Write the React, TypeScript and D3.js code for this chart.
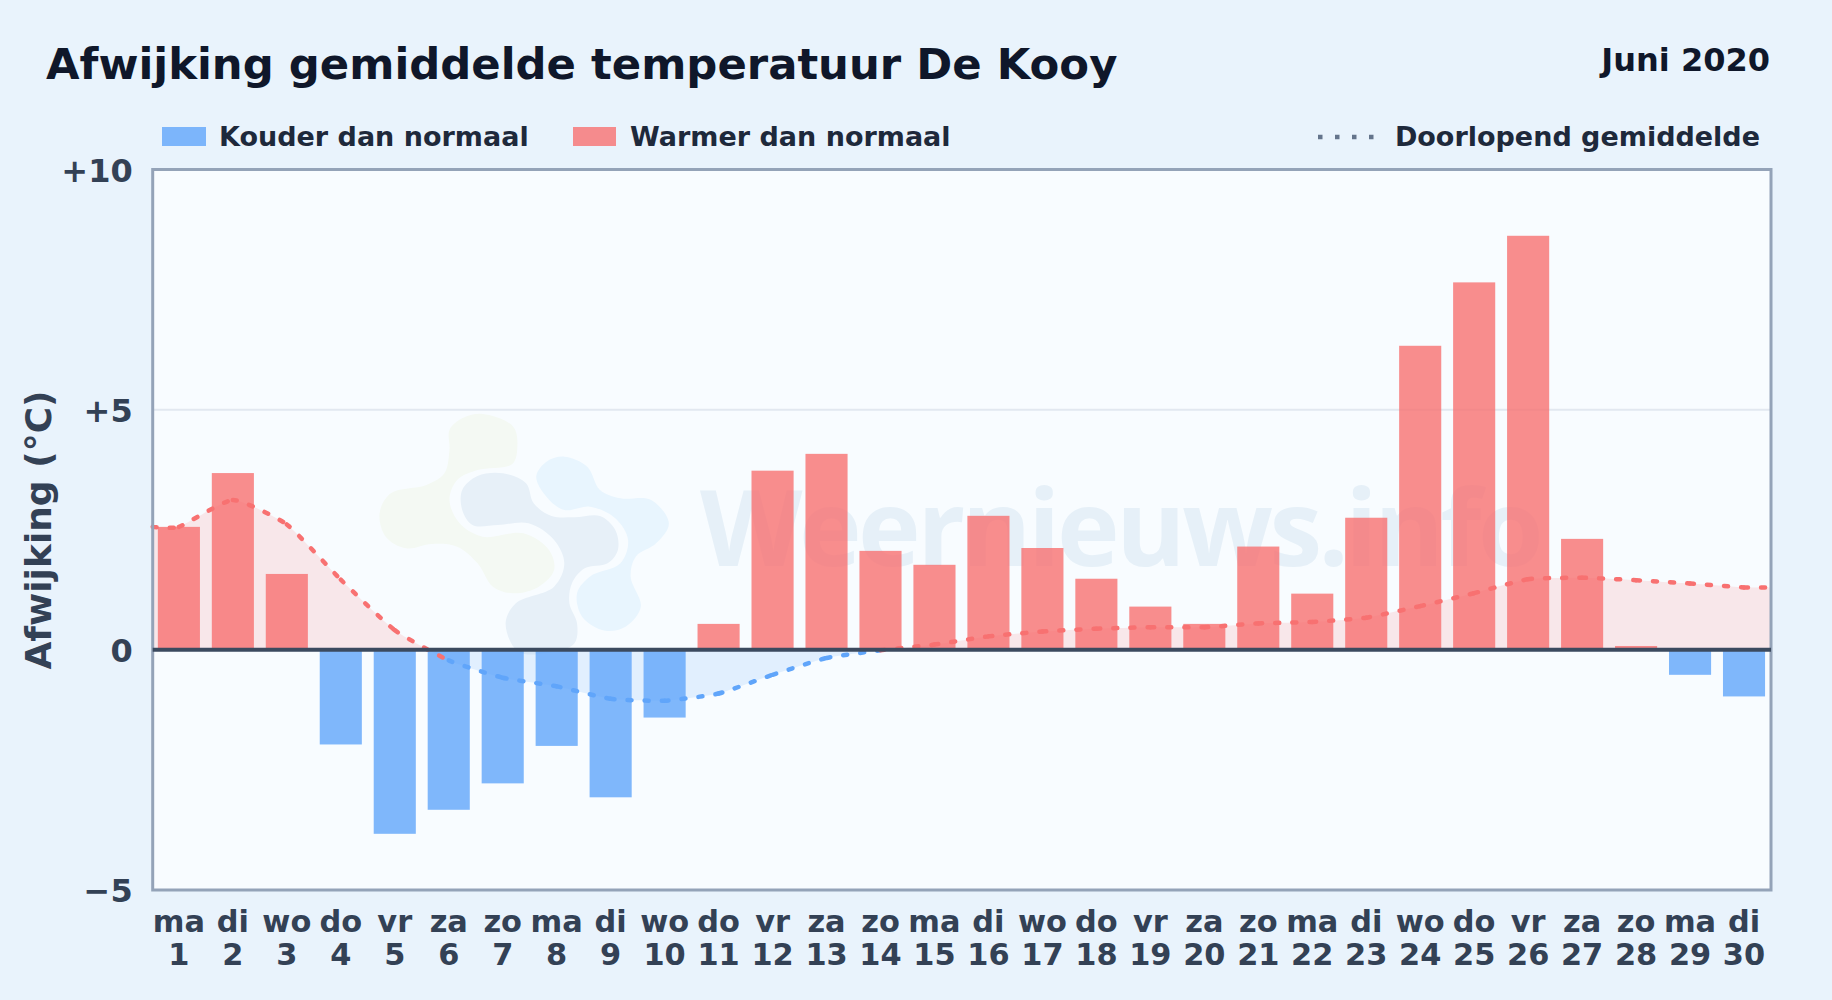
import React, { useEffect, useRef } from "react";
import * as d3 from "d3";

const WEEKDAYS = ["ma", "di", "wo", "do", "vr", "za", "zo", "ma", "di", "wo", "do", "vr", "za", "zo", "ma", "di", "wo", "do", "vr", "za", "zo", "ma", "di", "wo", "do", "vr", "za", "zo", "ma", "di"];
const DAYS = ["1", "2", "3", "4", "5", "6", "7", "8", "9", "10", "11", "12", "13", "14", "15", "16", "17", "18", "19", "20", "21", "22", "23", "24", "25", "26", "27", "28", "29", "30"];
const ANOMALY = [2.56, 3.68, 1.58, -1.97, -3.83, -3.33, -2.78, -2.0, -3.07, -1.41, 0.54, 3.73, 4.08, 2.06, 1.77, 2.79, 2.12, 1.48, 0.9, 0.54, 2.15, 1.17, 2.75, 6.33, 7.65, 8.62, 2.31, 0.08, -0.52, -0.97];
const RUNNING_MEAN = [2.56, 3.12, 2.61, 1.46, 0.41, -0.22, -0.58, -0.76, -1.02, -1.06, -0.91, -0.52, -0.17, -0.01, 0.11, 0.28, 0.38, 0.44, 0.47, 0.47, 0.55, 0.58, 0.67, 0.91, 1.18, 1.47, 1.5, 1.45, 1.38, 1.3];
const Y_TICKS = [-5, 0, 5, 10];

// Watermark blobs (zoomed crop coordinates)
const LOGO_GREEN: [number, number][] = [[260, 72], [320, 110], [328, 170], [318, 222], [250, 240], [210, 270], [195, 330], [215, 400], [260, 440], [340, 430], [390, 480], [400, 540], [370, 590], [320, 610], [280, 590], [250, 520], [210, 470], [160, 462], [110, 475], [70, 440], [58, 370], [80, 310], [150, 285], [185, 250], [195, 180], [195, 120], [220, 85]];
const LOGO_GREY: [number, number][] = [[220, 300], [250, 258], [300, 250], [345, 280], [360, 340], [395, 378], [440, 382], [490, 378], [520, 420], [525, 480], [505, 520], [460, 535], [435, 580], [430, 640], [445, 700], [440, 760], [400, 785], [330, 785], [305, 700], [325, 640], [400, 590], [420, 520], [400, 450], [350, 400], [290, 405], [240, 405], [220, 360]];
const LOGO_BLUE: [number, number][] = [[420, 200], [465, 230], [490, 300], [530, 325], [590, 330], [625, 400], [600, 460], [560, 500], [550, 560], [570, 650], [540, 710], [500, 722], [455, 680], [445, 610], [470, 560], [530, 520], [545, 450], [520, 385], [470, 350], [420, 360], [385, 320], [365, 260], [385, 215]];

const WIDTH = 1832;
const HEIGHT = 1000;
const margin = { top: 169.5, right: 61, bottom: 110, left: 152.7 };
const FONT = "'DejaVu Sans', sans-serif";
const RED = "#f87171";
const BLUE = "#60a5fa";

export default function App() {
    const svgRef = useRef<SVGSVGElement | null>(null);

    useEffect(() => {
        const svg = d3.select(svgRef.current);
        svg.selectAll("*").remove();

        const innerWidth = WIDTH - margin.left - margin.right;
        const innerHeight = HEIGHT - margin.top - margin.bottom;

        const x = d3.scaleBand<string>().domain(DAYS).range([-0.8, innerWidth]).paddingInner(0.22).paddingOuter(0.11);
        const y = d3.scaleLinear().domain([-5, 10]).range([innerHeight, 0]);
        const centre = (i: number) => (x(DAYS[i]) as number) + x.bandwidth() / 2;

        svg.append("rect").attr("width", WIDTH).attr("height", HEIGHT).attr("fill", "#e9f3fc");

        // Titles
        svg.append("text").attr("x", 46).attr("y", 79).attr("font-size", 43.35).attr("font-weight", "bold")
            .attr("fill", "#0f172a").text("Afwijking gemiddelde temperatuur De Kooy");
        svg.append("text").attr("x", 1770).attr("y", 71).attr("text-anchor", "end").attr("font-size", 32).attr("font-weight", "bold")
            .attr("fill", "#0f172a").text("Juni 2020");

        // Legend
        const legend = svg.append("g").attr("font-size", 27).attr("font-weight", "bold").attr("fill", "#1e293b");
        legend.append("rect").attr("x", 162).attr("y", 127).attr("width", 44).attr("height", 19).attr("fill", BLUE).attr("opacity", 0.8);
        legend.append("text").attr("x", 219).attr("y", 146).text("Kouder dan normaal");
        legend.append("rect").attr("x", 573).attr("y", 127).attr("width", 43).attr("height", 19).attr("fill", RED).attr("opacity", 0.8);
        legend.append("text").attr("x", 630).attr("y", 146).text("Warmer dan normaal");
        legend.append("line").attr("x1", 1318).attr("x2", 1374).attr("y1", 137).attr("y2", 137)
            .attr("stroke", "#64748b").attr("stroke-width", 4.5).attr("stroke-dasharray", "4.5 12.5");
        legend.append("text").attr("x", 1760).attr("y", 146).attr("text-anchor", "end").text("Doorlopend gemiddelde");

        const g = svg.append("g").attr("transform", `translate(${margin.left},${margin.top})`);
        g.append("rect").attr("width", innerWidth).attr("height", innerHeight).attr("fill", "#f8fcff");

        // Watermark
        const logoX = d3.scaleLinear().domain([0, 1568]).range([350 - margin.left, 1150 - margin.left]);
        const logoY = d3.scaleLinear().domain([0, 840]).range([390 - margin.top, 670 - margin.top]);
        const blob = d3.line<[number, number]>().x(d => logoX(d[0])).y(d => logoY(d[1])).curve(d3.curveCatmullRomClosed);
        const logo = g.append("g");
        logo.append("path").attr("d", blob(LOGO_GREEN)).attr("fill", "#f4f9f3");
        logo.append("path").attr("d", blob(LOGO_GREY)).attr("fill", "#e7f0f8");
        logo.append("path").attr("d", blob(LOGO_BLUE)).attr("fill", "#e8f5fe");
        g.append("text").attr("x", 700 - margin.left).attr("y", 566 - margin.top).attr("font-family", "'Open Sans', sans-serif")
            .attr("font-size", 106).attr("font-weight", 700).attr("letter-spacing", -3.5).attr("fill", "#e6f0f8").text("Weernieuws.info");

        // Grid
        g.append("line").attr("x1", 0).attr("x2", innerWidth).attr("y1", y(5)).attr("y2", y(5)).attr("stroke", "#e2e8f0").attr("stroke-width", 2);

        // Running mean runs flat out to the plot edges
        const meanPoints: [number, number][] = [
            [0, y(RUNNING_MEAN[0])],
            ...RUNNING_MEAN.map((v, i) => [centre(i), y(v)] as [number, number]),
            [innerWidth, y(RUNNING_MEAN[RUNNING_MEAN.length - 1])],
        ];
        const meanCurve = d3.curveCardinal.tension(0.5);

        const defs = svg.append("defs");
        defs.append("clipPath").attr("id", "above").append("rect").attr("width", innerWidth).attr("height", y(0));
        defs.append("clipPath").attr("id", "below").append("rect").attr("y", y(0)).attr("width", innerWidth).attr("height", innerHeight - y(0));

        const area = d3.area<[number, number]>().x(d => d[0]).y0(y(0)).y1(d => d[1]).curve(meanCurve);
        g.append("path").attr("d", area(meanPoints)).attr("fill", RED).attr("opacity", 0.15).attr("clip-path", "url(#above)");
        g.append("path").attr("d", area(meanPoints)).attr("fill", BLUE).attr("opacity", 0.15).attr("clip-path", "url(#below)");

        // Bars
        g.append("g").selectAll("rect").data(ANOMALY).join("rect")
            .attr("x", (_, i) => x(DAYS[i]) as number)
            .attr("width", x.bandwidth())
            .attr("y", d => y(Math.max(d, 0)))
            .attr("height", d => Math.abs(y(d) - y(0)))
            .attr("fill", d => (d >= 0 ? RED : BLUE))
            .attr("opacity", 0.8);

        // The dashed mean is one path per day, so the dash restarts at each day
        const segments: string[] = [];
        let last: [number, number] = meanPoints[0];
        const recorder: any = {
            moveTo(px: number, py: number) { last = [px, py]; },
            lineTo(px: number, py: number) { segments.push(`M${last}L${px},${py}`); last = [px, py]; },
            bezierCurveTo(a: number, b: number, c: number, d: number, px: number, py: number) {
                segments.push(`M${last}C${a},${b},${c},${d},${px},${py}`);
                last = [px, py];
            },
            closePath() {},
        };
        d3.line<[number, number]>().x(d => d[0]).y(d => d[1]).curve(meanCurve).context(recorder)(meanPoints);
        const zero = y(0);
        g.append("g").selectAll("path").data(segments).join("path")
            .attr("d", d => d)
            .attr("fill", "none")
            .attr("stroke", (_, i) => ((meanPoints[i][1] + meanPoints[i + 1][1]) / 2 <= zero ? RED : BLUE))
            .attr("stroke-width", 4.5)
            .attr("stroke-linecap", "round")
            .attr("stroke-dasharray", "4 13");

        // Frame and zero line
        g.append("rect").attr("width", innerWidth).attr("height", innerHeight).attr("fill", "none").attr("stroke", "#94a3b8").attr("stroke-width", 3);
        g.append("line").attr("x1", 0).attr("x2", innerWidth).attr("y1", y(0)).attr("y2", y(0)).attr("stroke", "#3b4a5f").attr("stroke-width", 4);

        // Axes
        const yAxis = g.append("g").call(
            d3.axisLeft(y).tickValues(Y_TICKS).tickSize(0).tickPadding(20)
                .tickFormat(d => (+d > 0 ? `+${d}` : +d < 0 ? `\u2212${Math.abs(+d)}` : `${d}`))
        );
        yAxis.select(".domain").remove();
        yAxis.selectAll("text").attr("dy", "0.36em").attr("font-family", FONT).attr("font-size", 32).attr("font-weight", "bold").attr("fill", "#334155");

        const xAxis = g.append("g").attr("transform", `translate(0,${innerHeight})`).call(d3.axisBottom(x).tickSize(0).tickFormat(() => ""));
        xAxis.select(".domain").remove();
        xAxis.selectAll<SVGGElement, string>(".tick").each(function (d, i) {
            const t = d3.select(this).select("text").attr("y", 0).attr("dy", null).attr("font-family", FONT).attr("font-size", 30.4).attr("font-weight", "bold").attr("fill", "#334155");
            t.append("tspan").attr("x", 0).attr("y", 42).text(WEEKDAYS[i]);
            t.append("tspan").attr("x", 0).attr("y", 75).text(d);
        });

        // Y title
        svg.append("text").attr("transform", "translate(51,530) rotate(-90)").attr("text-anchor", "middle")
            .attr("font-size", 36).attr("font-weight", "bold").attr("fill", "#334155").text("Afwijking (°C)");
    }, []);

    return <svg ref={svgRef} width={WIDTH} height={HEIGHT} fontFamily={FONT} style={{ position: "absolute", left: 0, top: 0 }} />;
}
